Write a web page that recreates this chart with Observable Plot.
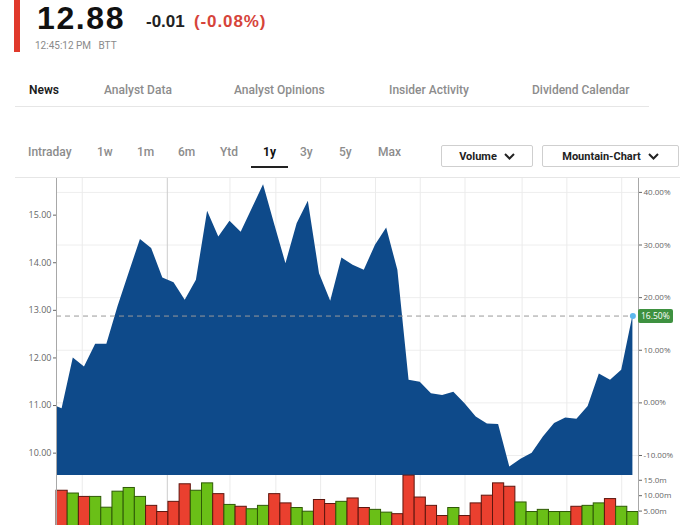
<!DOCTYPE html>
<html><head><meta charset="utf-8">
<script src="https://cdn.jsdelivr.net/npm/d3@7"></script>
<script src="https://cdn.jsdelivr.net/npm/@observablehq/plot@0.6"></script>
<style>
html,body{margin:0;padding:0;background:#fff}
body{width:700px;height:525px;overflow:hidden;position:relative;font-family:Roboto,"Liberation Sans",sans-serif}
.abs{position:absolute;white-space:nowrap}
.tab{position:absolute;top:83px;font-size:12px;line-height:14px;font-weight:500;color:#8c8c8c}
.rng{position:absolute;top:145px;font-size:12px;line-height:14px;font-weight:500;color:#8c8c8c}
.btn{position:absolute;top:145px;height:22px;border:1px solid #cfcfcf;border-radius:2px;box-sizing:border-box;font-size:11px;font-weight:700;color:#222;display:flex;align-items:center;justify-content:center;gap:7px}
.chart{position:absolute;left:0}
</style></head><body>
<div id="root"></div>
<script>
// ---- data ----
const lastPrice = 12.88;
const changeAbs = "-0.01";
const changePct = "(-0.08%)";
const timeLabel = "12:45:12 PM";
const exchange = "BTT";
const tabs = ["News", "Analyst Data", "Analyst Opinions", "Insider Activity", "Dividend Calendar"];
const ranges = ["Intraday", "1w", "1m", "6m", "Ytd", "1y", "3y", "5y", "Max"];
const activeRange = "1y";
const dropdowns = ["Volume", "Mountain-Chart"];

// weekly closing prices (first value is the week before the visible window)
const priceValues = [11.03, 10.93, 12.00, 11.81, 12.29, 12.29, 13.08, 13.79, 14.49, 14.30,
  13.68, 13.58, 13.21, 13.63, 15.08, 14.54, 14.87, 14.64, 15.14, 15.64,
  14.80, 13.98, 14.82, 15.29, 13.77, 13.19, 14.10, 13.95, 13.84, 14.37,
  14.73, 13.84, 11.53, 11.49, 11.25, 11.21, 11.28, 11.04, 10.76, 10.61,
  10.60, 9.71, 9.87, 10.00, 10.34, 10.62, 10.74, 10.71, 10.98, 11.66,
  11.53, 11.74, 12.88];
// weekly volumes in millions
const volumes = [11.6, 10.7, 9.6, 9.6, 6.1, 11.3, 12.5, 9.6, 6.7, 4.7,
  8.0, 13.7, 11.6, 14.0, 10.5, 7.0, 6.4, 5.6, 6.7, 10.5,
  7.5, 6.0, 4.8, 8.6, 7.3, 8.0, 9.1, 6.0, 5.4, 4.5,
  4.0, 16.5, 9.4, 6.7, 3.4, 6.0, 3.4, 7.5, 10.0, 14.0,
  12.9, 7.8, 4.7, 5.4, 4.7, 4.7, 6.4, 6.7, 7.5, 8.9,
  6.4, 4.7];
const volumeDirection = "DUDUUUUUDDDDUUDUDUUDDUUDDUDDUUDDDDDUDDDDDUUUUUDUUDUU";

const priceTicks = [10, 11, 12, 13, 14, 15];
const pctTicks = [-10, 0, 10, 20, 30, 40];
const lastPct = 16.5;
const volTicks = [5, 10, 15];
const volTickLabels = ["5.00m", "10.00m", "15.0m"];
const gridWeeks = [1.8, 15.0, 19.1, 23.1, 28.0, 32.0, 36.0, 41.1, 45.1, 50.0];
const yearLineWeek = 9.4;

// ---- derived ----
const basePrice = lastPrice / (1 + lastPct / 100);
const pctTickPrices = pctTicks.map(p => basePrice * (1 + p / 100));
const priceTable = priceValues.map((p, i) => ({week: i - 1, price: p}));
const volTable = volumes.map((v, i) => ({week: i, vol: v, dir: volumeDirection[i]}));
const xDomain = [-0.5, volumes.length - 0.5];
const yDomain = [9.53, 15.77];
const lastWeek = priceTable[priceTable.length - 1].week;

const root = document.getElementById("root");
function add(html) { root.insertAdjacentHTML("beforeend", html); }

// ---- header ----
add(`<div class="abs" style="left:14px;top:0;width:6px;height:52px;background:#e0392b"></div>`);
add(`<div class="abs" style="left:37px;top:0px;font-family:'Liberation Sans',Arial,sans-serif;font-weight:700;font-size:32px;line-height:36px;letter-spacing:1.6px;color:#111">${lastPrice.toFixed(2)}</div>`);
add(`<div class="abs" style="left:146px;top:13px;font-family:'Liberation Sans',Arial,sans-serif;font-weight:700;font-size:17px;line-height:17px;color:#222">${changeAbs}</div>`);
add(`<div class="abs" style="left:194px;top:13px;font-family:'Liberation Sans',Arial,sans-serif;font-weight:700;font-size:17px;line-height:17px;letter-spacing:0.9px;color:#d6443a">${changePct}</div>`);
add(`<div class="abs" style="left:35px;top:40px;font-size:10px;line-height:11px;color:#8a8a8a">${timeLabel}&nbsp;&nbsp;&nbsp;${exchange}</div>`);

// tabs
const tabX = [29, 104, 234, 389, 532];
tabs.forEach((t, i) => add(`<div class="tab" style="left:${tabX[i]}px;${i === 0 ? "color:#1a1a1a;font-weight:600" : ""}">${t}</div>`));
add(`<div class="abs" style="left:15px;top:106px;width:634px;height:1px;background:#e6e6e6"></div>`);

// range buttons
const rngX = [28, 97, 137, 178, 220, 263, 300, 339, 378];
ranges.forEach((r, i) => {
  const act = r === activeRange;
  add(`<div class="rng" style="left:${rngX[i]}px;${act ? "color:#111;font-weight:700" : ""}">${r}</div>`);
});
add(`<div class="abs" style="left:251px;top:166px;width:37px;height:2px;background:#222"></div>`);
const chev = `<svg width="11" height="7" viewBox="0 0 11 7"><polyline points="1,1 5.5,5.5 10,1" fill="none" stroke="#222" stroke-width="2"/></svg>`;
add(`<div class="btn" style="left:441px;width:92px">${dropdowns[0]}${chev}</div>`);
add(`<div class="btn" style="left:542px;width:137px">${dropdowns[1]}${chev}</div>`);

// top border of chart
add(`<div class="abs" style="left:15px;top:177px;width:665px;height:1px;background:#e6e6e6"></div>`);

// ---- main mountain chart ----
const main = Plot.plot({
  width: 700, height: 476,
  marginTop: 178, marginBottom: 1, marginLeft: 56, marginRight: 62,
  x: {domain: xDomain, axis: null},
  y: {domain: yDomain, axis: null},
  style: {fontFamily: "'Open Sans', sans-serif", color: "#666", background: "transparent", overflow: "visible"},
  marks: [
    Plot.ruleY(pctTickPrices, {stroke: "#eeeeee"}),
    Plot.ruleX(gridWeeks, {stroke: "#ebebeb"}),
    Plot.ruleX([yearLineWeek], {stroke: "#cccccc"}),
    Plot.areaY(priceTable, {x: "week", y: "price", y1: yDomain[0], fill: "#0e4a8a", clip: true}),
    Plot.ruleY([lastPrice], {x1: xDomain[0], x2: lastWeek, stroke: "#9a9a9a", strokeDasharray: "5,4"}),
    Plot.ruleX(xDomain, {stroke: "#a8a8a8"}),
    Plot.dot([priceTable[priceTable.length - 1]], {x: "week", y: "price", r: 3, fill: "#5cb8ee"}),
    Plot.axisY({anchor: "left", ticks: priceTicks, tickFormat: d => d.toFixed(2), tickSize: 3, tickPadding: 2, fontSize: 9, label: null}),
    Plot.axisY({anchor: "right", ticks: pctTickPrices, tickFormat: d => ((d / basePrice - 1) * 100).toFixed(2) + "%", tickSize: 3, tickPadding: 2, fontSize: 8, label: null})
  ]
});
main.classList.add("chart");
main.style.top = "0px";
root.appendChild(main);

// green last-value label
const yLast = main.scale("y").apply(lastPrice);
add(`<div class="abs" style="left:638px;top:${(yLast - 7).toFixed(1)}px;height:14px;padding:0 3px;background:#3e9140;color:#fff;font-family:'Open Sans',sans-serif;font-size:8.5px;line-height:14px;border-radius:2px">${lastPct.toFixed(2)}%</div>`);

// ---- volume chart ----
const vol = Plot.plot({
  width: 700, height: 51,
  marginTop: 0, marginBottom: 0, marginLeft: 56, marginRight: 62,
  x: {domain: xDomain, axis: null},
  y: {domain: [0, 16.55], axis: null},
  style: {fontFamily: "'Open Sans', sans-serif", color: "#666", background: "transparent", overflow: "visible"},
  marks: [
    Plot.ruleX(gridWeeks, {stroke: "#ebebeb"}),
    Plot.ruleX([yearLineWeek], {stroke: "#cccccc"}),
    Plot.rectY(volTable, {
      x1: d => d.week - 0.5, x2: d => d.week + 0.5, y: "vol",
      fill: d => d.dir === "U" ? "#6abf17" : "#ea402f",
      stroke: d => d.dir === "U" ? "#2f5a06" : "#5e160e",
      strokeWidth: 1
    }),
    Plot.ruleX(xDomain, {stroke: "#a8a8a8"}),
    Plot.axisY({anchor: "right", ticks: volTicks, tickFormat: d => volTickLabels[volTicks.indexOf(d)], tickSize: 3, tickPadding: 2, fontSize: 8, label: null})
  ]
});
vol.classList.add("chart");
vol.style.top = "475px";
root.appendChild(vol);
</script>
</body></html>
